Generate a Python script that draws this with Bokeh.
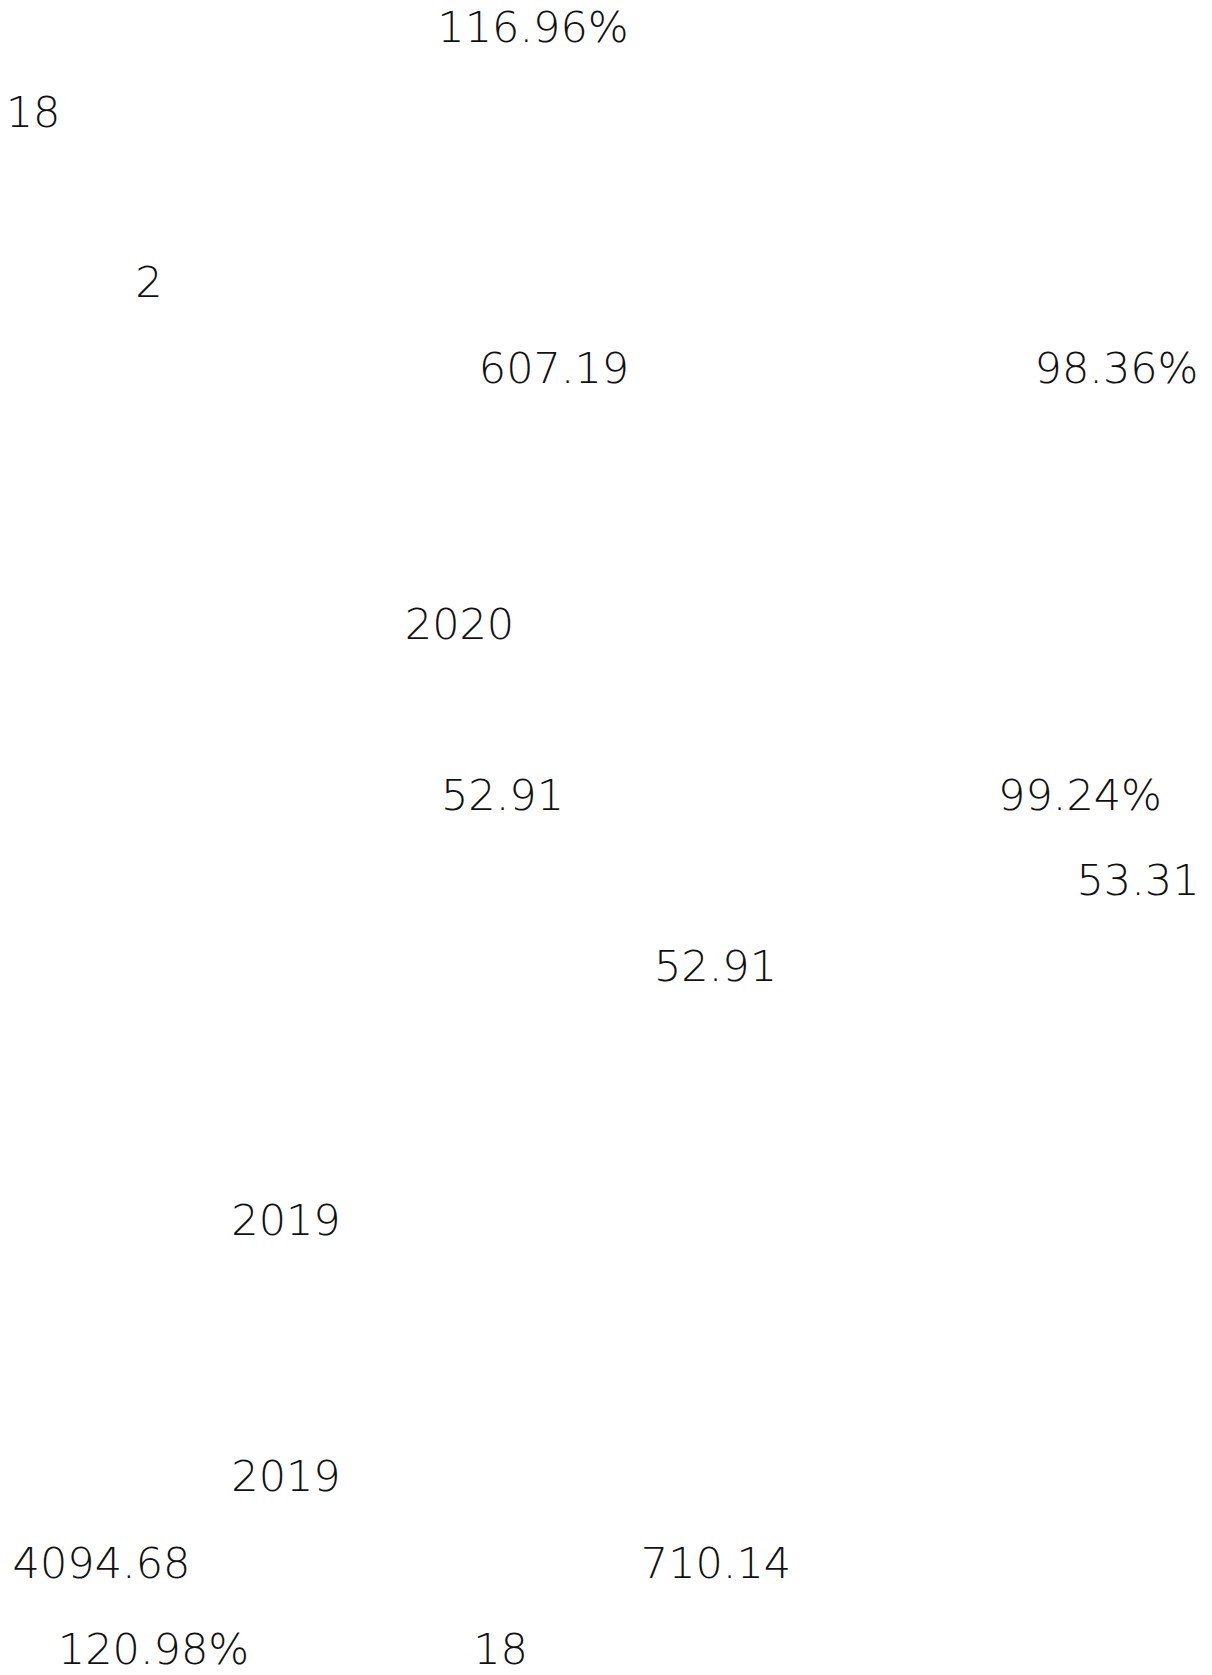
from bokeh.plotting import figure
from bokeh.models import ColumnDataSource, Range1d
from bokeh.core.properties import value
from bokeh.embed import file_html
from bokeh.resources import INLINE

# Text fragments visible on the page
labels = ["116.96%", "18", "2", "607.19", "98.36%", "2020", "52.91", "99.24%",
          "53.31", "52.91", "2019", "2019", "4094.68", "120.98%", "710.14", "18"]
# Anchor positions (page pixel coordinates: centre x, baseline y)
label_x = [532.5, 32.5, 148.5, 553.5, 1116, 459, 502, 1079.5,
           1137.5, 715, 285.5, 285.5, 101, 153, 715.5, 500]
label_y = [42, 127, 297, 383, 383, 639, 810, 810,
           895, 981, 1235, 1491, 1578, 1664, 1578, 1664]

W, H = 1212, 1675
p = figure(width=W, height=H, output_backend="svg", toolbar_location=None,
           x_range=Range1d(0, W), y_range=Range1d(H, 0),
           min_border=0, min_border_left=0, min_border_right=0,
           min_border_top=0, min_border_bottom=0)
p.axis.visible = False
p.grid.visible = False
p.outline_line_color = None
p.background_fill_color = "white"
p.border_fill_color = "white"

src = ColumnDataSource(dict(x=label_x, y=label_y, t=labels))
p.text(x="x", y="y", text="t", source=src,
       text_font=value("DejaVu Sans Light, DejaVu Sans"), text_font_size="43px",
       text_align="center", text_baseline="alphabetic", text_color="#111111",
       y_offset=-16)

open("out.html", "w").write(file_html(p, INLINE))
